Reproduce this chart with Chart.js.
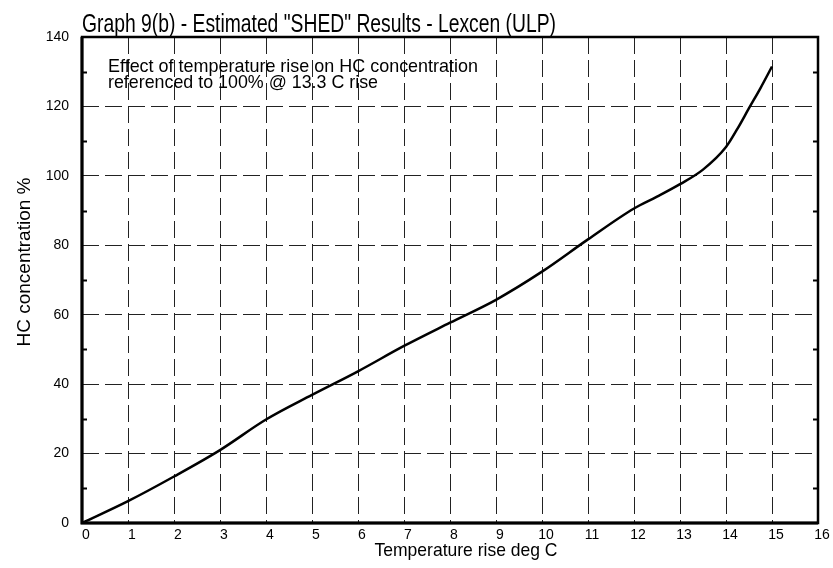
<!DOCTYPE html>
<html>
<head>
<meta charset="utf-8">
<title>Graph 9(b) - Estimated "SHED" Results - Lexcen (ULP)</title>
<script src="https://cdn.jsdelivr.net/npm/chart.js@4/dist/chart.umd.min.js"></script>
<style>
  html, body { margin: 0; padding: 0; background: #fff; }
  #wrap { width: 833px; height: 568px; position: relative; }
</style>
</head>
<body>
<div id="wrap"><canvas id="shedChart"></canvas></div>
<script>
'use strict';

// ── Data: HC concentration vs temperature rise ──
const tempRise  = [0, 1, 2, 3, 4, 5, 6, 7, 8, 9, 10, 11, 12, 12.5, 13, 13.5, 14, 14.25, 14.5, 14.75, 15];
const hcPercent = [0, 6.3, 13.4, 21, 29.8, 36.9, 43.7, 51, 57.7, 64.3, 72.4, 81.7, 90.6, 94, 97.6, 101.8, 108.3, 113.6, 119.5, 125.3, 131.5];

const xTicks = [0, 1, 2, 3, 4, 5, 6, 7, 8, 9, 10, 11, 12, 13, 14, 15, 16];
const yTicks = [0, 20, 40, 60, 80, 100, 120, 140];
const yMinorTicks = [10, 30, 50, 70, 90, 110, 130];

const chartTitle = 'Graph 9(b) - Estimated "SHED" Results - Lexcen (ULP)';
const noteLines  = ['Effect of temperature rise on HC concentration', 'referenced to 100% @ 13.3 C rise'];
const xTitle = 'Temperature rise deg C';
const yTitle = 'HC concentration %';

const FONT = "'Liberation Sans Narrow', 'Liberation Sans', Arial, sans-serif";
const TICK_FONT = "'Liberation Sans', Arial, sans-serif";

// Title, note, axis titles, frame and the small inward minor ticks
const decorations = {
    id: 'decorations',
    afterDraw(chart) {
        const { ctx, chartArea: a, scales } = chart;
        ctx.save();
        ctx.fillStyle = '#000';
        ctx.textBaseline = 'alphabetic';
        ctx.textAlign = 'left';

        ctx.font = `25px ${FONT}`;
        ctx.fillText(chartTitle, 82, 32, 474);

        ctx.font = `19px ${FONT}`;
        ctx.fillText(noteLines[0], 108, 72, 370);
        ctx.fillText(noteLines[1], 108, 88, 270);

        ctx.textAlign = 'center';
        ctx.font = `19px ${FONT}`;
        ctx.fillText(xTitle, 466, 556, 183);

        ctx.save();
        ctx.translate(30, 262);
        ctx.rotate(-Math.PI / 2);
        ctx.fillText(yTitle, 0, 0, 170);
        ctx.restore();

        // minor ticks on both vertical axes
        ctx.strokeStyle = '#000';
        ctx.lineWidth = 2;
        yMinorTicks.forEach(v => {
            const py = Math.round(scales.y.getPixelForValue(v)) + 0.5;
            ctx.beginPath();
            ctx.moveTo(a.left, py); ctx.lineTo(a.left + 5, py);
            ctx.moveTo(a.right, py); ctx.lineTo(a.right - 5, py);
            ctx.stroke();
        });

        // plot frame: heavier on left/bottom
        ctx.lineWidth = 2.5;
        ctx.strokeRect(a.left, a.top, a.right - a.left, a.bottom - a.top);
        ctx.lineWidth = 3;
        ctx.beginPath();
        ctx.moveTo(a.left, a.top); ctx.lineTo(a.left, a.bottom); ctx.lineTo(a.right, a.bottom);
        ctx.stroke();
        ctx.restore();
    }
};

const points = tempRise.map((x, i) => ({ x, y: hcPercent[i] }));

new Chart(document.getElementById('shedChart'), {
    type: 'line',
    data: {
        datasets: [{
            label: 'HC concentration',
            data: points,
            borderColor: '#000',
            borderWidth: 2.5,
            pointRadius: 0,
            fill: false,
            cubicInterpolationMode: 'monotone'
        }]
    },
    options: {
        responsive: true,
        maintainAspectRatio: false,
        animation: false,
        layout: { padding: { top: 37, right: 15, left: 0, bottom: 0 } },
        plugins: { legend: { display: false }, tooltip: { enabled: false }, title: { display: false } },
        scales: {
            x: {
                type: 'linear',
                min: xTicks[0],
                max: xTicks[xTicks.length - 1],
                afterBuildTicks: s => { s.ticks = xTicks.map(v => ({ value: v })); },
                afterFit: s => { s.height = 45; },
                ticks: {
                    color: '#000',
                    font: { family: TICK_FONT, size: 14 },
                    padding: 4,
                    labelOffset: 4,
                    maxRotation: 0,
                    autoSkip: false
                },
                grid: { color: '#222', lineWidth: 1, drawTicks: false },
                border: { display: false, dash: [17, 6] }
            },
            y: {
                type: 'linear',
                min: yTicks[0],
                max: yTicks[yTicks.length - 1],
                afterBuildTicks: s => { s.ticks = yTicks.map(v => ({ value: v })); },
                afterFit: s => { s.width = 82; },
                ticks: {
                    color: '#000',
                    font: { family: TICK_FONT, size: 14 },
                    padding: 13
                },
                grid: { color: '#222', lineWidth: 1, drawTicks: false },
                border: { display: false, dash: [17, 6] }
            }
        }
    },
    plugins: [decorations]
});
</script>
</body>
</html>
